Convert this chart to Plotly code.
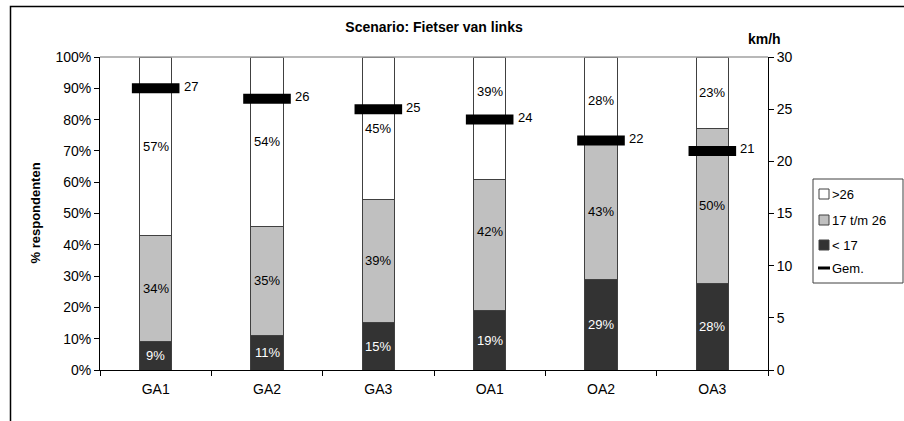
import plotly.graph_objects as go

# Snelheidsverdeling per scenario (percentages) en gemiddelde snelheid (km/h)
categories = ["GA1", "GA2", "GA3", "OA1", "OA2", "OA3"]
pct_under_17 = [9, 11, 15, 19, 29, 28]
pct_17_26 = [34, 35, 39, 42, 43, 50]
pct_over_26 = [57, 54, 45, 39, 28, 23]
gem_kmh = [27, 26, 25, 24, 22, 21]

series_names = ["< 17", "17 t/m 26", ">26"]
series_colors = ["#333333", "#c0c0c0", "#ffffff"]
label_colors = ["#ffffff", "#000000", "#000000"]

FONT = "Liberation Sans, Arial, sans-serif"
W, H = 904, 421
M = dict(l=100, r=136, t=57, b=51)
PW = W - M["l"] - M["r"]
PH = H - M["t"] - M["b"]


def px(x):
    """pixel x -> paper x"""
    return (x - M["l"]) / PW


def py(y):
    """pixel y (from top) -> paper y"""
    return (H - M["b"] - y) / PH


def note(x, y, text, size=13, xanchor="center", **kw):
    return dict(x=x, y=y, xref="paper", yref="paper", text=text,
                showarrow=False, xanchor=xanchor, yanchor="middle",
                font=dict(family=FONT, size=size, color="black"), **kw)


fig = go.Figure()

stacks = [pct_under_17, pct_17_26, pct_over_26]
for vals, name, col in zip(stacks, series_names, series_colors):
    fig.add_trace(go.Bar(
        x=categories, y=vals, name=name,
        marker=dict(color=col, line=dict(color="#404040", width=1)),
        width=0.29, showlegend=False, hoverinfo="skip",
    ))

# gemiddelde snelheid als dikke horizontale streep op de rechteras
fig.add_trace(go.Scatter(
    x=categories, y=gem_kmh, yaxis="y2", name="Gem.",
    mode="markers",
    marker=dict(symbol="line-ew", size=34, color="black",
                line=dict(color="black", width=10)),
    showlegend=False, hoverinfo="skip", cliponaxis=False,
))

annotations = []
# waardelabels naast de strepen
for cat, v in zip(categories, gem_kmh):
    annotations.append(dict(
        x=cat, y=v, xref="x", yref="y2", text=str(v), showarrow=False,
        xanchor="left", yanchor="middle", xshift=26, yshift=2,
        font=dict(family=FONT, size=13, color="black"),
    ))

# segmentlabels in het midden van elk segment (genormaliseerd naar 100%)
label_nudge = {(3, 2): 27, (3, 1): 13}  # OA1: labels vrij van de streep
for i, cat in enumerate(categories):
    total = sum(s[i] for s in stacks)
    base = 0
    for k, (vals, lc) in enumerate(zip(stacks, label_colors)):
        v = vals[i]
        mid = (base + v / 2) / total * 100
        base += v
        annotations.append(dict(
            x=cat, y=mid, xref="x", yref="y", text=f"{v}%", showarrow=False,
            xanchor="center", yanchor="middle",
            font=dict(family=FONT, size=13, color=lc),
            yshift=label_nudge.get((i, k), 0),
        ))

# asteksten
annotations.append(note(px(35), 0.5, "<b>% respondenten</b>", textangle=-90))
annotations.append(note(px(764), py(39), "<b>km/h</b>", size=14))

# legenda
legend_rows = [(">26", "#ffffff", 194), ("17 t/m 26", "#c0c0c0", 220),
               ("< 17", "#333333", 245)]
shapes = [
    # buitenkader van de grafiek
    dict(type="rect", xref="paper", yref="paper", x0=px(10.5), x1=px(960),
         y0=py(480), y1=py(6.5), line=dict(color="black", width=1.5),
         layer="below"),
    # grijze bovenrand plotgebied
    dict(type="line", xref="paper", yref="paper", x0=0, x1=1, y0=1, y1=1,
         line=dict(color="#a0a0a0", width=1.5)),
    # legendakader
    dict(type="rect", xref="paper", yref="paper", x0=px(813), x1=px(903),
         y0=py(283), y1=py(179), line=dict(color="#404040", width=1),
         fillcolor="white"),
]
for text, col, yc in legend_rows:
    shapes.append(dict(type="rect", xref="paper", yref="paper",
                       x0=px(819), x1=px(829), y0=py(yc + 5), y1=py(yc - 5),
                       fillcolor=col, line=dict(color="#404040", width=1)))
    annotations.append(note(px(830), py(yc), text, xanchor="left"))
shapes.append(dict(type="line", xref="paper", yref="paper",
                   x0=px(818), x1=px(830), y0=py(268), y1=py(268),
                   line=dict(color="black", width=3)))
annotations.append(note(px(830), py(268), "Gem.", xanchor="left"))

fig.update_layout(
    width=W, height=H,
    margin=dict(l=M["l"], r=M["r"], t=M["t"], b=M["b"], autoexpand=False),
    paper_bgcolor="white", plot_bgcolor="white",
    barmode="stack", barnorm="percent",
    font=dict(family=FONT, size=14, color="black"),
    title=dict(text="<b>Scenario: Fietser van links</b>", x=0.5, xref="paper",
               xanchor="center", y=1 - 27 / H, yref="container",
               yanchor="middle",
               font=dict(family=FONT, size=14, color="black")),
    xaxis=dict(type="category", range=[-0.5, 5.5], tickson="boundaries",
               ticks="outside", ticklen=5, tickcolor="black", showline=True,
               linecolor="black", linewidth=1, showgrid=False,
               tickfont=dict(size=14), ticklabelstandoff=6),
    yaxis=dict(range=[0, 100], dtick=10, ticksuffix="%", ticks="outside",
               ticklen=5, tickcolor="black", showline=True, linecolor="black",
               linewidth=1, showgrid=False, zeroline=False,
               tickfont=dict(size=14)),
    yaxis2=dict(range=[0, 30], dtick=5, overlaying="y", side="right",
                ticks="outside", ticklen=5, tickcolor="black", showline=True,
                linecolor="black", linewidth=1, showgrid=False,
                zeroline=False, tickfont=dict(size=14)),
    annotations=annotations,
    shapes=shapes,
)

fig.write_html("out.html")
